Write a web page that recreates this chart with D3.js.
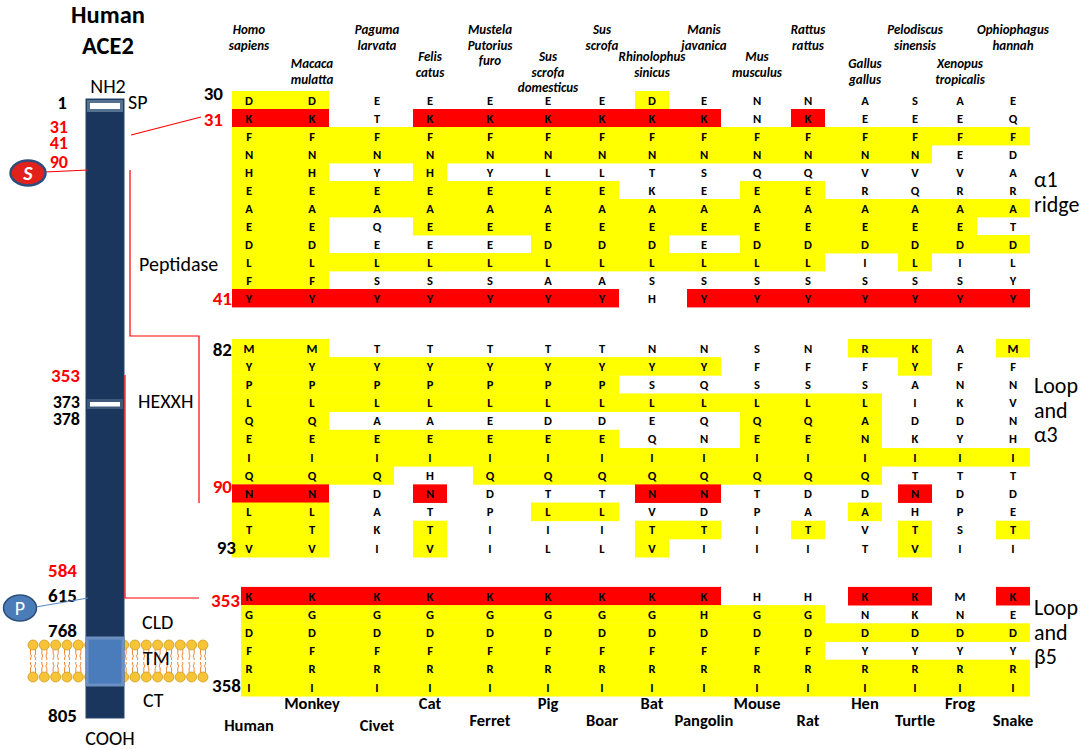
<!DOCTYPE html>
<html>
<head>
<meta charset="utf-8">
<script src="https://cdn.jsdelivr.net/npm/d3@7"></script>
<style>
  body { margin: 0; background: #fff; }
  text { font-family: Carlito, Lato, "Open Sans", sans-serif; }
</style>
</head>
<body>
<svg id="fig" width="1084" height="749"></svg>
<script>
// species, in column order
const latinNames = [
  ["Homo", "sapiens"], ["Macaca", "mulatta"], ["Paguma", "larvata"], ["Felis", "catus"],
  ["Mustela", "Putorius", "furo"], ["Sus", "scrofa", "domesticus"], ["Sus", "scrofa"],
  ["Rhinolophus", "sinicus"], ["Manis", "javanica"], ["Mus", "musculus"], ["Rattus", "rattus"],
  ["Gallus", "gallus"], ["Pelodiscus", "sinensis"], ["Xenopus", "tropicalis"], ["Ophiophagus", "hannah"]
];
const commonNames = ["Human", "Monkey", "Civet", "Cat", "Ferret", "Pig", "Boar", "Bat",
  "Pangolin", "Mouse", "Rat", "Hen", "Turtle", "Frog", "Snake"];

// residues 30-41 (alpha1 ridge), one string per residue, one char per species
const ridgeSeq = [
  "DDEEEEEDENNASAE", "KKTKKKKKKNKEEEQ", "FFFFFFFFFFFFFFF", "NNNNNNNNNNNNNED",
  "HHYHYLLTSQQVVVA", "EEEEEEEKEEERQRR", "AAAAAAAAAAAAAAA", "EEQEEEEEEEEEEET",
  "DDEEEDDDEDDDDDD", "LLLLLLLLLLLILIL", "FFSSSAASSSSSSSY", "YYYYYYYHYYYYYYY"
];
// y = conserved with human, r = key contact residue, . = none
const ridgeMark = [
  "yy.....y.......", "rr.rrrrrr.r....", "yyyyyyyyyyyyyyy", "yyyyyyyyyyyyy..",
  "yy.y...........", "yyyyyyy..yy....", "yyyyyyyyyyyyyyy", "yy.yyyyyyyyyyy.",
  "yy...yyy.yyyyyy", "yyyyyyyyyyy.y..", "yy.............", "rrrrrrr.rrrrrrr"
];

// residues 82-93 (loop and alpha3)
const loopA3Seq = [
  "MMTTTTTNNSNRKAM", "YYYYYYYYYFFFYFF", "PPPPPPPSQSSSANN", "LLLLLLLLLLLLIKV",
  "QQAAEDDEQQQADDN", "EEEEEEEQNEENKYH", "IIIIIIIIIIIIIII", "QQQHQQQQQQQQTTT",
  "NNDNDTTNNTDDNDD", "LLATPLLVDPAAHPE", "TTKTIIITTITVTST", "VVIVILLVIIITVII"
];
const loopA3Mark = [
  "yy.........yy.y", "yyyyyyyyy...y..", "yyyyyyy........", "yyyyyyyyyyyy...",
  "yy.......yyy...", "yyyyyyy..yyy...", "yyyyyyyyyyyyyyy", "yyy.yyyyyyyy...",
  "rr.r...rr...r..", "yy...yy....y...", "yy.y...yy.y.y.y", "yy.y...y....y.."
];

// residues 353-358 (loop and beta5)
const loopB5Seq = [
  "KKKKKKKKKHHKKMK", "GGGGGGGGHGGNKNE", "DDDDDDDDDDDDDDD",
  "FFFFFFFFFFFYYYY", "RRRRRRRRRRRRRRR", "IIIIIIIIIIIIIII"
];
const loopB5Mark = [
  "rrrrrrrrr..rr.r", "yyyyyyyyyyy....", "yyyyyyyyyyyyyyy",
  "yyyyyyyyyyy....", "yyyyyyyyyyyyyyy", "yyyyyyyyyyyyyyy"
];

const blocks = [
  { first: 30, seq: ridgeSeq, mark: ridgeMark, top: 100, bottom: 298, minX: 232, label: ["α1", "ridge"], labelY: 187 },
  { first: 82, seq: loopA3Seq, mark: loopA3Mark, top: 348, bottom: 548, minX: 232, label: ["Loop", "and", "α3"], labelY: 393 },
  { first: 353, seq: loopB5Seq, mark: loopB5Mark, top: 596, bottom: 687, minX: 241, label: ["Loop", "and", "β5"], labelY: 615 }
];

const svg = d3.select("#fig");
const markColor = { y: "#ffff00", r: "#ff0000" };

const x = d3.scaleOrdinal()
  .domain(commonNames)
  .range([249, 312, 377, 430, 490, 548, 602, 652, 704, 757, 808, 865, 915, 960, 1013]);
const pad = 17;

// ---------- alignment blocks ----------
blocks.forEach(function (b) {
  const n = b.seq.length;
  const y = d3.scaleLinear().domain([b.first, b.first + n - 1]).range([b.top, b.bottom]);
  const h = (b.bottom - b.top) / (n - 1);
  const g = svg.append("g");

  // highlight runs
  const runs = [];
  b.mark.forEach(function (row, i) {
    let j = 0;
    while (j < row.length) {
      const c = row[j];
      if (c === ".") { j++; continue; }
      let k = j;
      while (k + 1 < row.length && row[k + 1] === c) k++;
      runs.push({ res: b.first + i, from: commonNames[j], to: commonNames[k], c: c });
      j = k + 1;
    }
  });
  const x0 = d => Math.max(b.minX, x(d.from) - pad);
  g.selectAll("rect.hl").data(runs).enter().append("rect")
    .attr("class", "hl")
    .attr("x", x0)
    .attr("width", d => x(d.to) + pad - x0(d))
    .attr("y", d => y(d.res) - h / 2)
    .attr("height", h + 0.4)
    .attr("fill", d => markColor[d.c]);

  // residue letters
  const cells = [];
  b.seq.forEach(function (row, i) {
    row.split("").forEach(function (aa, j) {
      cells.push({ res: b.first + i, sp: commonNames[j], aa: aa });
    });
  });
  g.selectAll("text.aa").data(cells).enter().append("text")
    .attr("class", "aa")
    .attr("x", d => x(d.sp))
    .attr("y", d => y(d.res) + 4.5)
    .attr("text-anchor", "middle")
    .style("font-size", "12.5px")
    .style("font-weight", "bold")
    .text(d => d.aa);

  // region label on the right
  g.selectAll("text.region").data(b.label).enter().append("text")
    .attr("class", "region")
    .attr("x", 1034)
    .attr("y", (d, i) => b.labelY + i * 24.5)
    .style("font-size", "22px")
    .text(d => d);
});

// ---------- species names ----------
const tier = [0, 2, 0, 1, 0, 1, 0, 1, 0, 1, 0, 2, 0, 2, 0];
const tierY = [34, 61, 68];
const headerG = svg.append("g");
latinNames.forEach(function (lines, i) {
  headerG.append("text")
    .attr("x", x(commonNames[i]))
    .attr("y", tierY[tier[i]])
    .attr("text-anchor", "middle")
    .style("font-size", "13px")
    .style("font-weight", "bold")
    .style("font-style", "italic")
    .selectAll("tspan").data(lines).enter().append("tspan")
    .attr("x", x(commonNames[i]))
    .attr("dy", (d, k) => k === 0 ? 0 : 15.5)
    .text(d => d);
});

svg.append("g").selectAll("text").data(commonNames).enter().append("text")
  .attr("x", d => x(d))
  .attr("y", (d, i) => i % 2 === 1 ? 709 : (i < 3 ? 731 : 726))
  .attr("text-anchor", "middle")
  .style("font-size", "16.5px")
  .style("font-weight", "bold")
  .text(d => d);

// ---------- residue numbers beside blocks ----------
function label(txt, xx, yy, opt) {
  opt = opt || {};
  return svg.append("text")
    .attr("x", xx).attr("y", yy)
    .attr("text-anchor", opt.anchor || "end")
    .attr("fill", opt.color || "#000")
    .style("font-size", (opt.size || 19) + "px")
    .style("font-weight", opt.weight || "bold")
    .text(txt);
}
label("30", 223, 100);
label("31", 223, 126, { color: "#ff0000" });
label("41", 232, 305, { color: "#ff0000" });
label("82", 232, 356);
label("90", 232, 493, { color: "#ff0000" });
label("93", 236, 554);
label("353", 240, 607, { color: "#ff0000" });
label("358", 241, 692);

// ---------- ACE2 schematic ----------
label("Human", 108, 23, { anchor: "middle", size: 24.5 });
label("ACE2", 108, 54, { anchor: "middle", size: 24.5 });

// membrane lipids
const lipidX = d3.range(16).map(i => 33 + i * 11.33);
const mem = svg.append("g");
mem.selectAll("path").data(lipidX).enter().append("path")
  .attr("d", d => `M${d - 2.5},649 v5 l1,2 l-1,2 v2 M${d + 2.5},649 v5 l-1,2 l1,2 v2` +
                 ` M${d - 2.5},673 v-5 l1,-2 l-1,-2 v-2 M${d + 2.5},673 v-5 l-1,-2 l1,-2 v-2`)
  .attr("fill", "none")
  .attr("stroke", "#f08a3c")
  .attr("stroke-width", 1);
[645, 677].forEach(function (cy) {
  mem.selectAll("circle.l" + cy).data(lipidX).enter().append("circle")
    .attr("class", "l" + cy)
    .attr("cx", d => d).attr("cy", cy).attr("r", 5)
    .attr("fill", "#f7c438").attr("stroke", "#cf9a20").attr("stroke-width", 0.8);
});

// protein bar
svg.append("rect").attr("x", 86).attr("y", 99).attr("width", 38).attr("height", 619)
  .attr("fill", "#1b365d").attr("stroke", "#24446f").attr("stroke-width", 1);
// signal peptide
svg.append("rect").attr("x", 87).attr("y", 100).attr("width", 36).attr("height", 12).attr("fill", "#56708f");
svg.append("rect").attr("x", 90).attr("y", 103).attr("width", 30).attr("height", 6).attr("fill", "#fff");
// HEXXH motif
svg.append("rect").attr("x", 87).attr("y", 399).attr("width", 36).attr("height", 10).attr("fill", "#3d5878");
svg.append("rect").attr("x", 90).attr("y", 402).attr("width", 30).attr("height", 4.5).attr("fill", "#fff");
// transmembrane
svg.append("rect").attr("x", 87).attr("y", 638).attr("width", 36).attr("height", 47)
  .attr("fill", "#4a7cbb").attr("stroke", "#6d8fc2").attr("stroke-width", 3);

label("NH2", 108, 93, { anchor: "middle", size: 20, weight: "normal" });
label("SP", 128, 109, { anchor: "start", size: 20, weight: "normal" });
label("1", 62, 109, { anchor: "middle" });
label("31", 68, 133, { color: "#ff0000", size: 18 });
label("41", 68, 149, { color: "#ff0000", size: 18 });
label("90", 68, 168, { color: "#ff0000", size: 18 });
label("Peptidase", 139, 271, { anchor: "start", size: 20, weight: "normal" });
label("353", 80, 382, { color: "#ff0000" });
label("373", 80, 408, { size: 18 });
label("378", 80, 425, { size: 18 });
label("HEXXH", 138, 408, { anchor: "start", size: 20, weight: "normal" });
label("584", 77, 577, { color: "#ff0000" });
label("615", 77, 602);
label("768", 77, 637);
label("CLD", 142, 629, { anchor: "start", size: 20, weight: "normal" });
label("TM", 143, 665, { anchor: "start", size: 20, weight: "normal" });
label("CT", 143, 707, { anchor: "start", size: 20, weight: "normal" });
label("805", 77, 722);
label("COOH", 110, 745, { anchor: "middle", size: 20, weight: "normal" });

// connectors
const red = "#ff0000";
svg.append("line").attr("x1", 131).attr("y1", 135).attr("x2", 201).attr("y2", 117)
  .attr("stroke", red).attr("stroke-width", 1.2);
svg.append("polyline").attr("points", "130,170 130,336 199,336 199,503")
  .attr("fill", "none").attr("stroke", red).attr("stroke-width", 1.2);
svg.append("polyline").attr("points", "125,375 125,598 199,598")
  .attr("fill", "none").attr("stroke", red).attr("stroke-width", 1.2);
svg.append("line").attr("x1", 45).attr("y1", 172).attr("x2", 88).attr("y2", 170)
  .attr("stroke", red).attr("stroke-width", 1.2);
svg.append("line").attr("x1", 36).attr("y1", 607).attr("x2", 88).attr("y2", 598)
  .attr("stroke", "#5a8ac4").attr("stroke-width", 1.2);

// S and P badges
svg.append("ellipse").attr("cx", 28).attr("cy", 173).attr("rx", 17.5).attr("ry", 12.5)
  .attr("fill", "#e3211c").attr("stroke", "#2c4e7e").attr("stroke-width", 2.5);
label("S", 28, 180, { anchor: "middle", color: "#fff", size: 20 }).style("font-style", "italic");
svg.append("ellipse").attr("cx", 20).attr("cy", 608).attr("rx", 16.5).attr("ry", 13)
  .attr("fill", "#4a7cb8").attr("stroke", "#2c4f7c").attr("stroke-width", 1.5);
label("P", 20, 615, { anchor: "middle", color: "#fff", size: 20, weight: "normal" });
</script>
</body>
</html>
